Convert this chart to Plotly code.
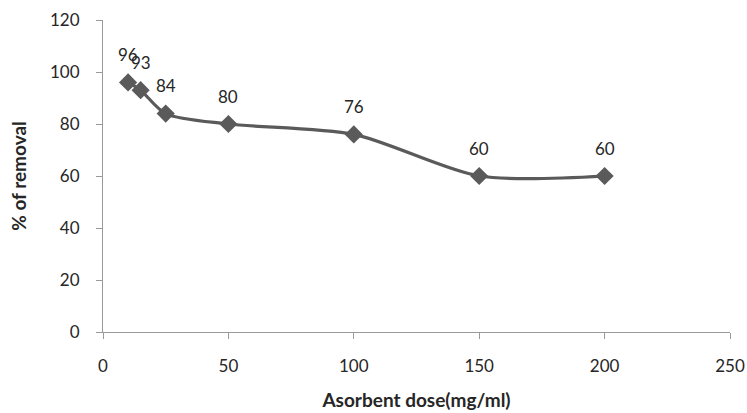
import plotly.graph_objects as go

# Adsorbent dose vs. removal efficiency
dose = [10, 15, 25, 50, 100, 150, 200]
removal = [96, 93, 84, 80, 76, 60, 60]
x_ticks = [0, 50, 100, 150, 200, 250]
y_ticks = [0, 20, 40, 60, 80, 100, 120]

line_color = "#5a5a5a"
axis_color = "#9a9a9a"
text_color = "#262626"
font_family = "Lato, 'Open Sans', sans-serif"

fig = go.Figure()
fig.add_trace(go.Scatter(
    x=dose, y=removal,
    mode="lines+markers",
    line=dict(color=line_color, width=3.2, shape="spline", smoothing=0.8),
    marker=dict(symbol="diamond", size=14, color=line_color),
    hoverinfo="x+y",
    cliponaxis=False,
))

# value labels above each point
for xv, yv in zip(dose, removal):
    fig.add_annotation(
        x=xv, y=yv, text=str(yv), showarrow=False, yshift=28,
        font=dict(family=font_family, size=17, color=text_color),
    )

fig.update_layout(
    width=747, height=413,
    margin=dict(l=103, r=17, t=20, b=81),
    paper_bgcolor="white", plot_bgcolor="white",
    showlegend=False,
    font=dict(family=font_family, size=17, color=text_color),
)
fig.update_xaxes(
    range=[0, 250], tickvals=x_ticks, showgrid=False, zeroline=False,
    showline=True, linecolor=axis_color, linewidth=1,
    ticks="outside", ticklen=6, tickcolor=axis_color,
    ticklabelstandoff=13, automargin=False,
    title=dict(text="<b>Asorbent dose(mg/ml)</b>", font=dict(size=19), standoff=18),
)
fig.update_yaxes(
    range=[0, 120], tickvals=y_ticks, showgrid=False, zeroline=False,
    showline=True, linecolor=axis_color, linewidth=1,
    ticks="outside", ticklen=6, tickcolor=axis_color,
    ticklabelstandoff=13, automargin=False,
    title=dict(text="<b>% of removal</b>", font=dict(size=19), standoff=18),
)

fig.write_html("out.html")
